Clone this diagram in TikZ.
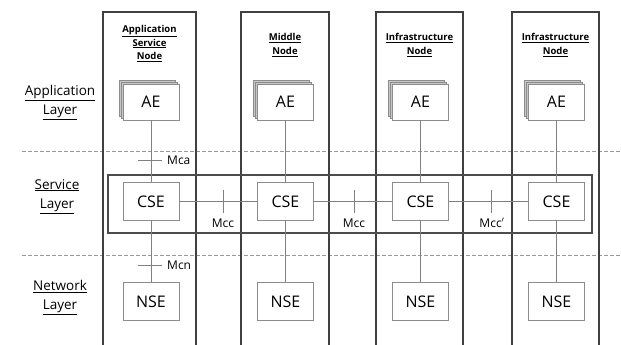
\documentclass[tikz,border=0pt]{standalone}
\usepackage{fontspec}
\setmainfont{Open Sans}
\usetikzlibrary{shadows}
\newcommand{\ulx}[1]{\underline{#1}}
\begin{document}
\begin{tikzpicture}[x=1pt,y=-1pt,
  colbox/.style={draw=black!75, line width=1.3pt},
  svcbox/.style={draw=black!70, line width=2.4pt},
  inbox/.style={draw=black!45, fill=white, line width=0.8pt, minimum width=56pt, minimum height=38pt, inner sep=0pt, font=\fontsize{16}{18}\selectfont},
  aebox/.style={inbox, minimum height=36pt, double copy shadow={shadow xshift=-2pt, shadow yshift=2pt, fill=black!22, draw=black!45}},
  link/.style={draw=black!50, line width=0.8pt},
  dashline/.style={draw=black!40, line width=1pt, dash pattern=on 4pt off 2pt},
  hdr/.style={align=center, font=\bfseries\fontsize{9.5}{13.5}\selectfont, inner sep=0pt},
  layer/.style={align=center, font=\fontsize{13.5}{19.5}\selectfont, inner sep=0pt},
  ref/.style={font=\fontsize{12}{14}\selectfont, inner sep=0pt}
]
\useasboundingbox (0,0) rectangle (621,345);
% layer separators
\coordinate (d1a) at (22,151); \coordinate (d1b) at (620,151);
\coordinate (d2a) at (22,255); \coordinate (d2b) at (620,255);
\draw[dashline] (d1a) -- (d1b);
\draw[dashline] (d2a) -- (d2b);
% node columns
\draw[colbox] (103,12) rectangle (196,346);
\draw[colbox] (241,12) rectangle (329,346);
\draw[colbox] (376,12) rectangle (463,346);
\draw[colbox] (512,12) rectangle (599,346);
% service layer frame
\draw[svcbox] (108,175) rectangle (592,233);
% headers
\node[hdr] (h1) at (149.5,43.5) {\ulx{Application}\\\ulx{Service}\\\ulx{Node}};
\node[hdr] (h2) at (285,45) {\ulx{Middle}\\\ulx{Node}};
\node[hdr] (h3) at (419.5,45) {\ulx{Infrastructure}\\\ulx{Node}};
\node[hdr] (h4) at (555.5,45) {\ulx{Infrastructure}\\\ulx{Node}};
% layer labels
\node[layer] (l1) at (60,102.5) {\ulx{Application}\\\ulx{Layer}};
\node[layer] (l2) at (57,196.5) {\ulx{Service}\\\ulx{Layer}};
\node[layer] (l3) at (60,297.5) {\ulx{Network}\\\ulx{Layer}};
% entities
\node[aebox] (ae1) at (151,102) {AE};
\node[aebox] (ae2) at (285.5,102) {AE};
\node[aebox] (ae3) at (420.5,102) {AE};
\node[aebox] (ae4) at (556.5,102) {AE};
\node[inbox] (cse1) at (151,201.5) {CSE};
\node[inbox] (cse2) at (285.5,201.5) {CSE};
\node[inbox] (cse3) at (420.5,201.5) {CSE};
\node[inbox] (cse4) at (556.5,201.5) {CSE};
\node[inbox] (nse1) at (151,301.5) {NSE};
\node[inbox] (nse2) at (285.5,301.5) {NSE};
\node[inbox] (nse3) at (420.5,301.5) {NSE};
\node[inbox] (nse4) at (556.5,301.5) {NSE};
% vertical links
\foreach \i in {1,2,3,4}{
  \draw[link] (ae\i) -- (cse\i);
  \draw[link] (cse\i) -- (nse\i);
}
% horizontal links
\draw[link] (cse1) -- (cse2);
\draw[link] (cse2) -- (cse3);
\draw[link] (cse3) -- (cse4);
% reference point marks
\coordinate (ma1) at (138,160); \coordinate (ma2) at (162,160);
\draw[link] (ma1) -- (ma2);
\node[ref, anchor=west] (mca) at (167,160.5) {Mca};
\coordinate (mn1) at (138,265); \coordinate (mn2) at (162,265);
\draw[link] (mn1) -- (mn2);
\node[ref, anchor=west] (mcn) at (167,265.5) {Mcn};
\coordinate (c1a) at (223,190); \coordinate (c1b) at (223,213);
\draw[link] (c1a) -- (c1b);
\node[ref] (mcc1) at (223,223) {Mcc};
\coordinate (c2a) at (354,190); \coordinate (c2b) at (354,213);
\draw[link] (c2a) -- (c2b);
\node[ref] (mcc2) at (354,223) {Mcc};
\coordinate (c3a) at (491,190); \coordinate (c3b) at (491,213);
\draw[link] (c3a) -- (c3b);
\node[ref] (mcc3) at (492,223) {Mcc$'$};
\end{tikzpicture}
\end{document}
